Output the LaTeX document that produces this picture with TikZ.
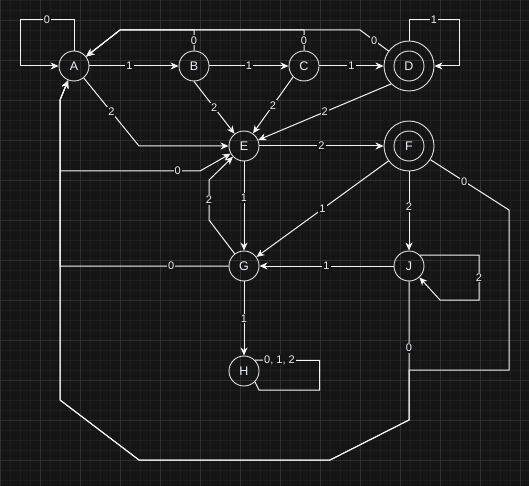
\documentclass[tikz,border=0pt]{standalone}
\usepackage{fontspec}
\setmainfont{Liberation Sans}
\usepackage{tikz}
\usetikzlibrary{arrows.meta}
\definecolor{bgclr}{RGB}{21,21,21}
\definecolor{minorclr}{RGB}{29,29,29}
\definecolor{majorclr}{RGB}{48,48,48}
\definecolor{lineclr}{RGB}{245,245,245}
\definecolor{circclr}{RGB}{225,225,225}
\definecolor{txtclr}{RGB}{235,238,245}
\tikzset{
    minorgrid/.style={draw=minorclr,line width=0.6pt},
    majorgrid/.style={draw=majorclr,line width=0.8pt},
    state/.style={circle,draw=circclr,line width=0.9pt,minimum size=30pt,inner sep=0pt,text=txtclr,font=\fontsize{12.5}{14}\selectfont},
    accept/.style={state,minimum size=50pt,path picture={\draw[circclr,line width=0.9pt] (path picture bounding box.center) circle[radius=15pt];}},
    trans/.style={draw=lineclr,line width=1pt,-{Stealth[length=8pt,width=7pt,inset=2.5pt]}},
    loopline/.style={draw=lineclr,line width=1pt},
    lbl/.style={fill=bgclr,inner sep=1pt,text=txtclr,font=\fontsize{11}{13}\selectfont},
}

\begin{document}
\begin{tikzpicture}[x=1pt,y=-1pt]
\useasboundingbox (0,0) rectangle (529,486);
\fill[bgclr] (0,0) rectangle (529,486);
\foreach \k in {0,10,...,520} \draw[minorgrid] (\k,0) -- (\k,486);
\foreach \k in {0,10,...,480} \draw[minorgrid] (0,\k) -- (529,\k);
\foreach \k in {0,40,...,520} \draw[majorgrid] (\k,0) -- (\k,486);
\foreach \k in {20,60,...,460} \draw[majorgrid] (0,\k) -- (529,\k);

\node[state]  (A) at (74,66)   {A};
\node[state]  (B) at (194,66)  {B};
\node[state]  (C) at (304,66)  {C};
\node[accept] (D) at (409,66)  {D};
\node[state]  (E) at (244,146) {E};
\node[accept] (F) at (409,146) {F};
\node[state]  (G) at (244,266) {G};
\node[state]  (J) at (409,266) {J};
\node[state]  (H) at (244,371) {H};
\coordinate (ret) at (60,171);

% top row
\draw[trans] (A.north) |- node[lbl,pos=0.75]{0} (20,20) |- (A.west);
\draw[trans] (A) -- node[lbl,pos=0.45]{1} (B);
\draw[trans] (B) -- node[lbl]{1} (C);
\draw[trans] (C) -- node[lbl]{1} (D);
\draw[trans] (D.north) |- node[lbl,pos=0.75]{1} (459,20) |- (D.east);
\draw[trans] (B.north) -- node[lbl]{0} (194,30) -- (120,30) -- (A);
\draw[trans] (C.north) -- node[lbl]{0} (304,30) -- (120,30) -- (A);
\draw[trans] (D) -- node[lbl]{0} (360,30) -- (120,30) -- (A);

% into E
\draw[trans] (A) -- node[lbl]{2} (139,146) -- (E);
\draw[trans] (B.south) -- node[lbl]{2} (E);
\draw[trans] (C.south west) -- node[lbl]{2} (E);
\draw[trans] (D.south west) -- node[lbl]{2} (E);
\draw[trans] (G) -- (209,220) -- node[lbl]{2} (209,180) -- (E);
\draw[trans] (ret) -- node[lbl,pos=0.84]{0} (200,171) -- (E);

% middle
\draw[trans] (E) -- node[lbl]{2} (F);
\draw[trans] (E) -- node[lbl,pos=0.41]{1} (G);
\draw[trans] (F) -- node[lbl]{1} (G);
\draw[trans] (F) -- node[lbl,pos=0.45]{2} (J);
\draw[trans] (J) -- node[lbl]{1} (G);
\draw[trans] (J.north east) -| node[lbl,pos=0.75]{2} (479,300) -- (440,300) -- (J);
\draw[trans] (G) -- node[lbl,pos=0.34]{0} (60,266) -- (60,100) -- (A);

% back to A
\draw[trans] (F) -- node[lbl,pos=0.43]{0} (509,210) -- (509,370) -- (409,370) -- (409,420) -- (330,460) -- (139,460) -- (60,400) -- (60,100) -- (A);
\draw[trans] (J) -- node[lbl,pos=0.48]{0} (409,420) -- (330,460) -- (139,460) -- (60,400) -- (60,100) -- (A);

% sink
\draw[trans] (G) -- node[lbl]{1} (H);
\draw[loopline] (H.north east) -- node[lbl,pos=0.38]{0, 1, 2} (319.5,360.4) |- (259,390) -- (H.south east);
\end{tikzpicture}
\end{document}
